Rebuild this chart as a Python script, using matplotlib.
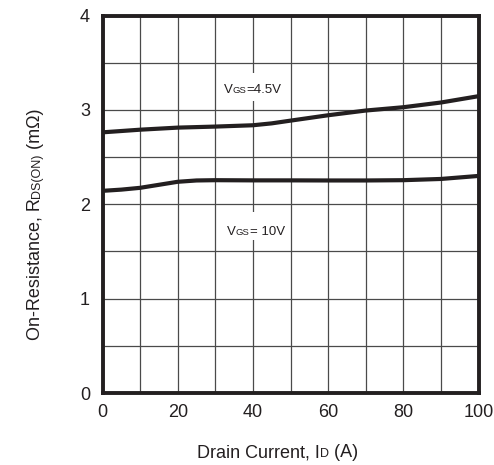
import numpy as np
import matplotlib
matplotlib.use("Agg")
import matplotlib.pyplot as plt
from matplotlib.patches import Rectangle
from matplotlib.transforms import ScaledTranslation

# valeurs
id_45v = [0, 10, 20, 30, 40, 45, 50, 60, 70, 80, 90, 100]
r_45v = [2.762, 2.79, 2.812, 2.823, 2.837, 2.857, 2.886, 2.943, 2.993, 3.028, 3.078, 3.145]
id_10v = [0, 5, 10, 15, 20, 25, 30, 40, 50, 60, 70, 80, 90, 100]
r_10v = [2.142, 2.155, 2.174, 2.206, 2.238, 2.252, 2.255, 2.253, 2.253, 2.252, 2.252,
         2.255, 2.268, 2.30]

x_ticks = [0, 20, 40, 60, 80, 100]
y_ticks = [0, 1, 2, 3, 4]

ink = "#231f20"
plt.rcParams["font.family"] = ["Liberation Sans", "DejaVu Sans"]

W, H = 494, 465
fig = plt.figure(figsize=(W / 100, H / 100), dpi=100)
ax = fig.add_axes([102.5 / W, 1 - 393 / H, 376 / W, 377.5 / H])
ax.set_axisbelow(True)

ax.plot(id_45v, r_45v, color=ink, lw=3.0, solid_capstyle="butt", zorder=3)
ax.plot(id_10v, r_10v, color=ink, lw=3.0, solid_capstyle="butt", zorder=3)

ax.set_xlim(0, 100)
ax.set_ylim(0, 4)
ax.set_xticks(x_ticks)
ax.set_yticks(y_ticks)
ax.set_xticks(np.arange(0, 101, 10), minor=True)
ax.set_yticks(np.arange(0, 4.01, 0.5), minor=True)
ax.grid(True, which="both", color="#4a4a4a", lw=0.9)
ax.tick_params(which="both", length=0, labelsize=13, colors=ink)
ax.tick_params(axis="x", pad=8)
ax.tick_params(axis="y", pad=9)
for s in ax.spines.values():
    s.set_linewidth(2.8)
    s.set_color(ink)
    s.set_zorder(4)

fig.canvas.draw()
rend = fig.canvas.get_renderer()


def pieces(x, y, parts, rot=False):
    # morceaux de texte de tailles differentes sur la meme ligne de base
    # x, y en pixels depuis le coin bas gauche
    for txt, size in parts:
        t = fig.text(x / W, y / H, txt, fontsize=size, color=ink, ha="left",
                     va="baseline", rotation=90 if rot else 0,
                     rotation_mode="anchor", zorder=6)
        bb = t.get_window_extent(rend)
        if rot:
            y += bb.height
        else:
            x += bb.width


# titres des axes
pieces(197, 8, [("Drain Current, I", 13), ("D", 9), (" (A)", 13)])
pieces(39.5, 125, [("On-Resistance, R", 13), ("DS(ON)", 9), (" (m\u03a9)", 13)], rot=True)

# etiquettes des courbes : (texte, x debut, ligne de base, centre du cache blanc)
labels = [("=4.5V", 32.3, 3.18, 3.243), ("= 10V", 33.1, 1.675, 1.765)]
for rest, lx, ly, by in labels:
    tr = fig.dpi_scale_trans + ScaledTranslation(40, by, ax.transData)
    ax.add_patch(Rectangle((-0.33, -0.14), 0.66, 0.28, transform=tr,
                           facecolor="white", edgecolor="none", zorder=2))
    px, py = ax.transData.transform((lx, ly))
    pieces(px, py, [("V", 9.5), ("GS", 6.8), (rest, 9.5)])

fig.savefig("out.png", dpi=100)
